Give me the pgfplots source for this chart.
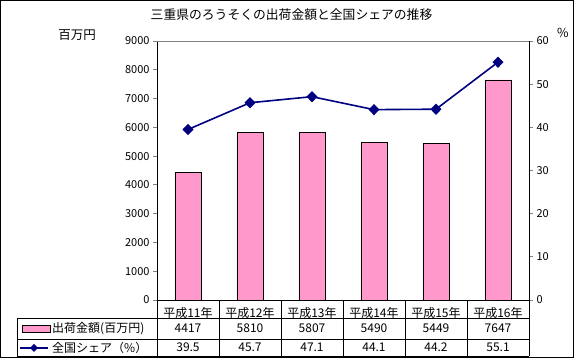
\documentclass[border=0pt]{standalone}
\usepackage{pgfplots}
\pgfplotsset{compat=1.18}
\usepackage{fontspec}
\setmainfont{Noto Sans CJK JP}
\definecolor{barpink}{RGB}{255,153,204}
\definecolor{navyline}{RGB}{0,0,128}
\begin{document}
\begin{tikzpicture}
\useasboundingbox (0pt,0pt) rectangle (574pt,358pt);
\draw[line width=1pt] (0.5pt,0.5pt) rectangle (573.5pt,357.5pt);
\begin{axis}[
  at={(157pt,58pt)}, anchor=south west,
  scale only axis, width=372pt, height=259pt,
  xmin=-0.5, xmax=5.5, ymin=0, ymax=9000,
  ytick={0,1000,...,9000},
  axis y line*=left, axis x line*=bottom,
  axis line style={line width=0.8pt},
  xtick={0,...,5},
  xticklabels={平成11年,平成12年,平成13年,平成14年,平成15年,平成16年},
  xtick style={draw=none},
  xticklabel style={anchor=center, yshift=-9pt, font=\fontsize{12}{13}\selectfont},
  tick align=outside, major tick length=4pt,
  ytick style={line width=0.8pt},
  yticklabel style={font=\fontsize{11}{12}\selectfont},
  /pgf/number format/assume math mode=true,
  /pgf/number format/1000 sep={},
  ybar, bar width=26pt,
  ylabel={百万円},
  every axis y label/.style={at={(rel axis cs:-0.215,1.023)}, anchor=center, font=\fontsize{12.5}{14}\selectfont},
  title={三重県のろうそくの出荷金額と全国シェアの推移},
  every axis title/.style={at={(rel axis cs:0.3616,1.10)}, anchor=center, font=\fontsize{12.8}{14}\selectfont},
  clip=false,
]
\addplot[fill=barpink, draw=black, line width=0.8pt] coordinates {(0,4417) (1,5810) (2,5807) (3,5490) (4,5449) (5,7647)};
\draw[gray, line width=0.8pt] (rel axis cs:0,1) -- (rel axis cs:1,1);
\end{axis}
\begin{axis}[
  at={(157pt,58pt)}, anchor=south west,
  scale only axis, width=372pt, height=259pt,
  xmin=-0.5, xmax=5.5, ymin=0, ymax=60,
  ytick={0,10,...,60},
  axis y line*=right, axis x line=none,
  axis line style={line width=0.8pt},
  tick align=outside, major tick length=4pt,
  ytick style={line width=0.8pt},
  yticklabel style={font=\fontsize{11}{12}\selectfont},
  /pgf/number format/assume math mode=true,
  ylabel={\%},
  every axis y label/.style={at={(rel axis cs:1.091,1.03)}, anchor=center, font=\fontsize{12.5}{14}\selectfont},
  clip=false,
]
\addplot[navyline, line width=1.6pt, mark=diamond*, mark size=4.5pt, mark options={xscale=1.3, fill=navyline}] coordinates {(0,39.5) (1,45.7) (2,47.1) (3,44.1) (4,44.2) (5,55.1)};
\end{axis}
% data table
\draw[line width=0.8pt] (17pt,40pt) -- (529pt,40pt);
\draw[line width=0.8pt] (17pt,19pt) -- (529pt,19pt);
\draw[line width=0.8pt] (17pt,1.5pt) -- (529pt,1.5pt);
\draw[line width=0.8pt] (17pt,40pt) -- (17pt,1.5pt);
\foreach \x in {157,219,281,343,405,467,529} \draw[line width=0.8pt] (\x pt,58pt) -- (\x pt,1.5pt);
\begin{scope}[every node/.style={font=\fontsize{12}{13}\selectfont, anchor=center}]
\foreach \v [count=\i from 0] in {4417,5810,5807,5490,5449,7647} \node at ({188pt+62pt*\i},29.5pt) {\v};
\foreach \v [count=\i from 0] in {39.5,45.7,47.1,44.1,44.2,55.1} \node at ({188pt+62pt*\i},10.5pt) {\v};
\end{scope}
% legend keys
\draw[fill=barpink, line width=0.8pt] (22pt,25.5pt) rectangle (50pt,33pt);
\node[anchor=west, font=\fontsize{12}{13}\selectfont, inner sep=0pt] at (52pt,29.5pt) {出荷金額(百万円)};
\draw[navyline, line width=1.6pt] (20pt,10pt) -- (48pt,10pt);
\fill[navyline] (34pt,14pt) -- (38pt,10pt) -- (34pt,6pt) -- (30pt,10pt) -- cycle;
\node[anchor=west, font=\fontsize{12}{13}\selectfont, inner sep=0pt] at (52pt,10.5pt) {全国シェア（\%）};
\end{tikzpicture}
\end{document}
